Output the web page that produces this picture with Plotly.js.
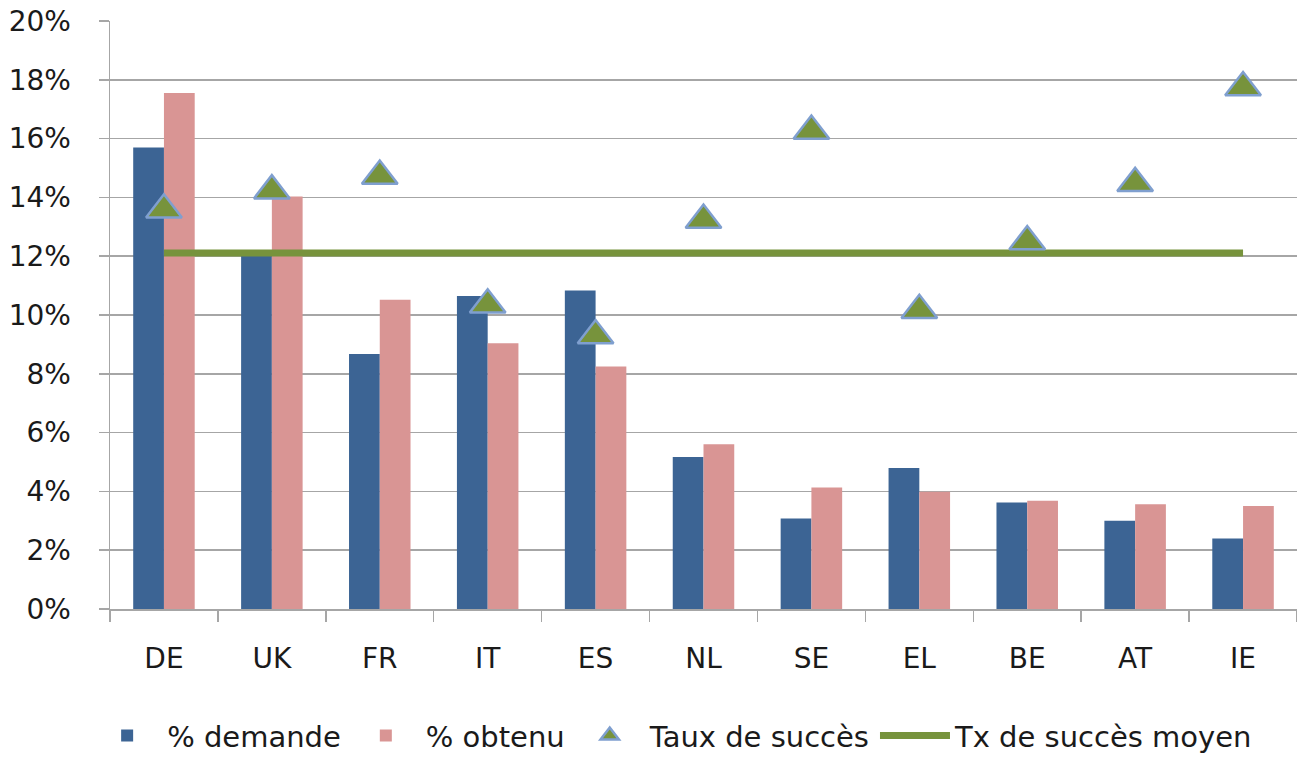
<!DOCTYPE html>
<html>
<head>
<meta charset="utf-8">
<script src="https://cdn.plot.ly/plotly-3.0.1.min.js"></script>
<style>html,body{margin:0;padding:0;background:#fff;}#chart{width:1297px;height:757px;}</style>
</head>
<body>
<div id="chart"></div>
<script>
var countries = ["DE","UK","FR","IT","ES","NL","SE","EL","BE","AT","IE"];
var pctDemande = [15.70, 12.20, 8.67, 10.65, 10.83, 5.17, 3.08, 4.80, 3.62, 3.00, 2.40];
var pctObtenu  = [17.55, 14.03, 10.52, 9.04, 8.25, 5.60, 4.13, 3.99, 3.68, 3.56, 3.50];
var tauxSucces = [13.58, 14.23, 14.73, 10.35, 9.30, 13.23, 16.26, 10.16, 12.50, 14.48, 17.74];
var txMoyen    = [12.11, 12.11, 12.11, 12.11, 12.11, 12.11, 12.11, 12.11, 12.11, 12.11, 12.11];

var FONT = "DejaVu Sans, Arial, sans-serif";
var GRID = "#a6a6a6";
var TXT = "#1a1a1a";

var traces = [
  {type:"bar", name:"% demande", x:countries, y:pctDemande,
   marker:{color:"#3c6494"}, legendrank:1},
  {type:"bar", name:"% obtenu", x:countries, y:pctObtenu,
   marker:{color:"#d99594"}, legendrank:2},
  {type:"scatter", mode:"lines", name:"Tx de succès moyen", x:countries, y:txMoyen,
   line:{color:"#77933c", width:7}, legendrank:4},
  {type:"scatter", mode:"markers", name:"Taux de succès", x:countries, y:tauxSucces,
   marker:{symbol:"triangle-up", size:31, color:"#77933c", line:{color:"#7f9fcf", width:2.5}},
   legendrank:3}
];

var layout = {
  width:1297, height:757,
  margin:{l:110, r:0, t:21, b:148, autoexpand:false},
  paper_bgcolor:"#fff", plot_bgcolor:"#fff",
  font:{family:FONT, size:28, color:TXT},
  barmode:"group", bargap:0.43, bargroupgap:0,
  showlegend:true,
  legend:{orientation:"h", x:0.474, xanchor:"center", y:-0.172, yanchor:"top",
          font:{family:FONT, size:29, color:TXT}, itemwidth:70, tracegroupgap:0,
          traceorder:"normal"},
  xaxis:{type:"category", range:[-0.5, 10.5], showgrid:false, showline:true, linecolor:GRID, linewidth:1.5,
         ticks:"outside", tickson:"boundaries", ticklen:11, tickcolor:GRID, tickwidth:1.5,
         ticklabelstandoff:24, tickfont:{family:FONT, size:28, color:TXT},
         fixedrange:true},
  yaxis:{range:[0,20], dtick:2, ticksuffix:"%", showgrid:true, gridcolor:GRID, gridwidth:1.5,
         showline:true, linecolor:GRID, linewidth:1.5, zeroline:false,
         ticks:"outside", ticklen:10, tickcolor:GRID, tickwidth:1.5,
         ticklabelstandoff:22, tickfont:{family:FONT, size:28, color:TXT},
         fixedrange:true},
  hovermode:false
};

Plotly.newPlot("chart", traces, layout, {displayModeBar:false, staticPlot:true});
</script>
</body>
</html>
